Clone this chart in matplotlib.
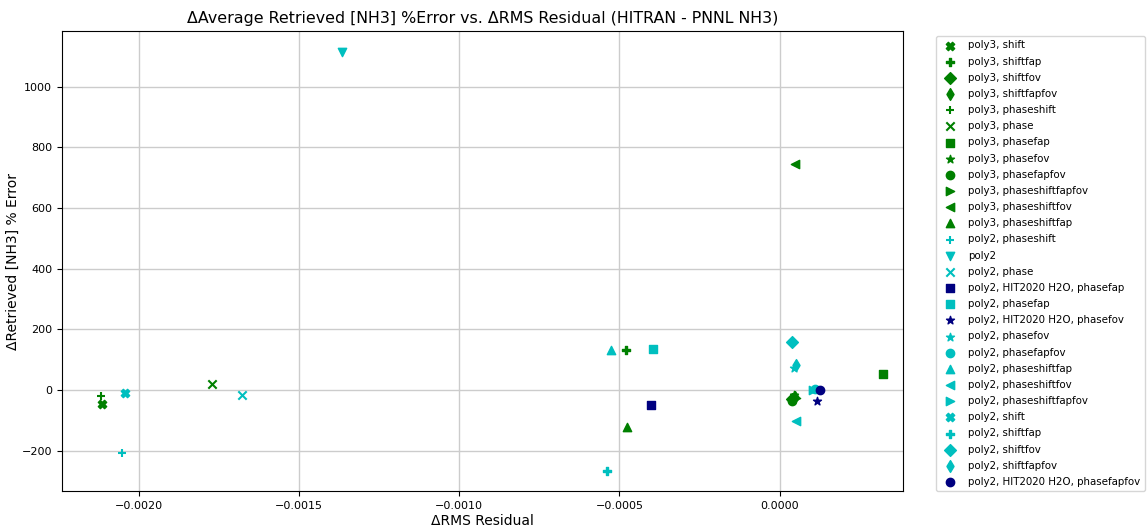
import matplotlib
matplotlib.use("Agg")
import matplotlib.pyplot as plt

# Series labels, marker styles and colours (one entry per series)
labels = [
    "poly3, shift", "poly3, shiftfap", "poly3, shiftfov", "poly3, shiftfapfov",
    "poly3, phaseshift", "poly3, phase", "poly3, phasefap", "poly3, phasefov",
    "poly3, phasefapfov", "poly3, phaseshiftfapfov", "poly3, phaseshiftfov",
    "poly3, phaseshiftfap", "poly2, phaseshift", "poly2", "poly2, phase",
    "poly2, HIT2020 H2O, phasefap", "poly2, phasefap", "poly2, HIT2020 H2O, phasefov",
    "poly2, phasefov", "poly2, phasefapfov", "poly2, phaseshiftfap",
    "poly2, phaseshiftfov", "poly2, phaseshiftfapfov", "poly2, shift",
    "poly2, shiftfap", "poly2, shiftfov", "poly2, shiftfapfov",
    "poly2, HIT2020 H2O, phasefapfov",
]
markers = [
    "X", "P", "D", "d", "+", "x", "s", "*", "o", ">", "<", "^",
    "+", "v", "x", "s", "s", "*", "*", "o", "^", "<", ">", "X", "P", "D", "d", "o",
]
colors = ["green"] * 12 + ["c", "c", "c", "navy", "c", "navy", "c", "c", "c", "c", "c", "c", "c", "c", "c", "navy"]

# Change in RMS residual for each series
delta_rms = [
    -0.002115, -0.000480, 0.000040, 0.000048, -0.002119, -0.001772, 0.000321,
    0.000045, 0.000038, 0.000050, 0.000047, -0.000477,
    -0.002053, -0.001367, -0.001679, -0.000402, -0.000396, 0.000118,
    0.000045, 0.000110, -0.000527, 0.000050, 0.000105, -0.002044,
    -0.000540, 0.000040, 0.000052, 0.000125,
]
# Change in average retrieved NH3 percent error for each series
delta_err = [
    -46, 133, -30, -22, -20, 20, 52, -15, -35, -25, 745, -122,
    -208, 1115, -16, -50, 137, -37, 72, 2, 133, -102, 0, -10,
    -265, 160, 82, 0,
]

fig = plt.figure(figsize=(11.47, 5.27), dpi=100)
ax = fig.add_axes([0.054, 0.068, 0.733, 0.873])

for lab, m, c, x, y in zip(labels, markers, colors, delta_rms, delta_err):
    ax.scatter([x], [y], marker=m, color=c, label=lab, s=36)

ax.set_xlim(-0.00224, 0.000384)
ax.set_ylim(-333, 1183)
ax.set_xticks([-0.0020, -0.0015, -0.0010, -0.0005, 0.0000])
ax.set_yticks([-200, 0, 200, 400, 600, 800, 1000])
ax.tick_params(labelsize=8)
ax.grid(True, color="#cccccc", linewidth=1.0)
ax.set_axisbelow(True)

ax.set_title("ΔAverage Retrieved [NH3] %Error vs. ΔRMS Residual (HITRAN - PNNL NH3)", fontsize=11.4)
ax.set_xlabel("ΔRMS Residual", fontsize=10, labelpad=2)
ax.set_ylabel("ΔRetrieved [NH3] % Error", fontsize=10, labelpad=1)

ax.legend(loc="upper left", bbox_to_anchor=(1.033, 1.0), fontsize=7.4,
          labelspacing=0.6, frameon=True)

fig.savefig("out.png", dpi=100)
